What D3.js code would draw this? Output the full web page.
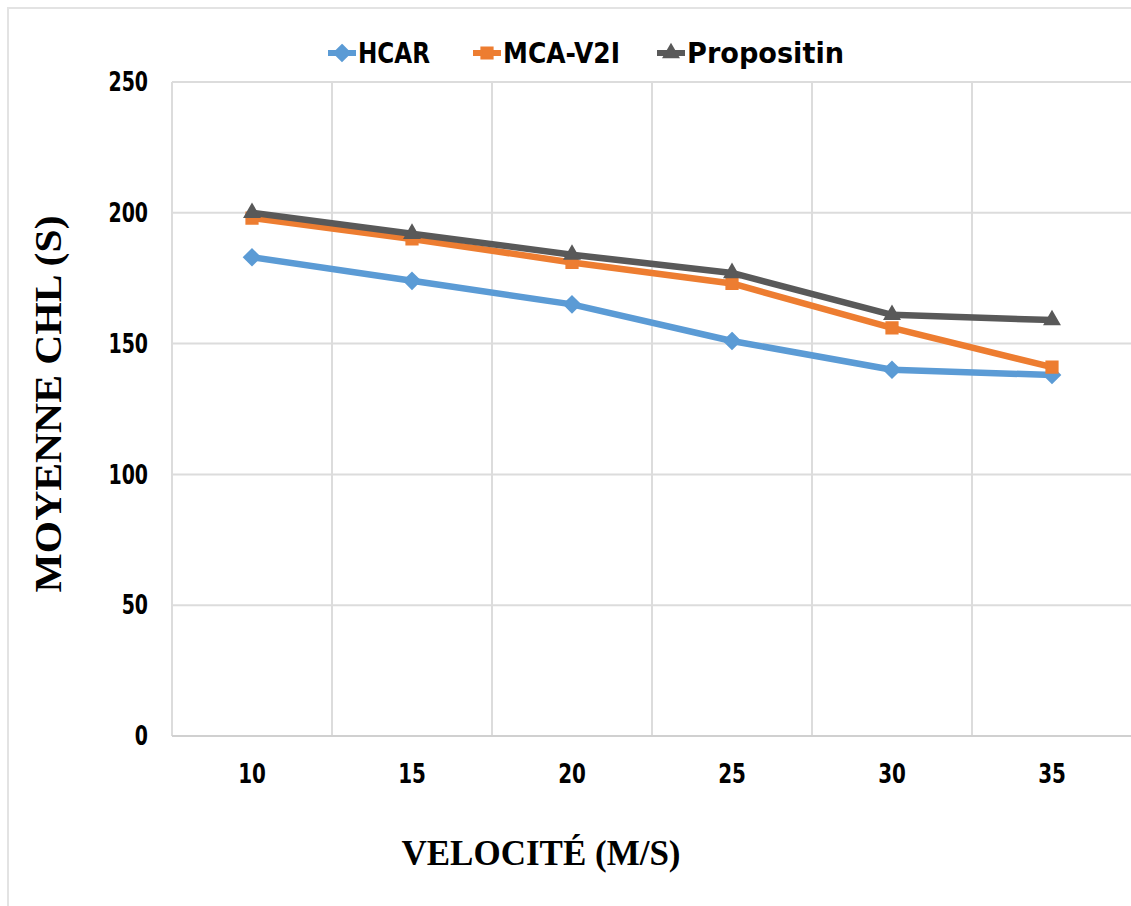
<!DOCTYPE html>
<html>
<head>
<meta charset="utf-8">
<script src="https://cdn.jsdelivr.net/npm/d3@7"></script>
<style>
  html, body { margin: 0; padding: 0; background: #fff; }
  svg { display: block; }
</style>
</head>
<body>
<svg id="chart" width="1131" height="906"></svg>
<script>
const categories = ["10", "15", "20", "25", "30", "35"];
const seriesNames = ["HCAR", "MCA-V2I", "Propositin"];
const hcar = [183, 174, 165, 151, 140, 138];
const mcaV2I = [198, 190, 181, 173, 156, 141];
const propositin = [200, 192, 184, 177, 161, 159];
const yTicks = [0, 50, 100, 150, 200, 250];
const xTitle = "VELOCITÉ (M/S)";
const yTitle = "MOYENNE CHL (S)";

(function () {
const series = [
  { name: seriesNames[0], values: hcar, color: "#5B9BD5", symbol: d3.symbolDiamond2, size: 160 },
  { name: seriesNames[1], values: mcaV2I, color: "#ED7D31", symbol: d3.symbolSquare2, size: 160 },
  { name: seriesNames[2], values: propositin, color: "#595959", symbol: d3.symbolTriangle2, size: 150 }
];

const svg = d3.select("#chart");
const sansFont = "'Liberation Sans Narrow', 'DejaVu Sans Condensed', 'Arial Narrow', sans-serif";
const serifFont = "'Liberation Serif', 'Times New Roman', serif";

function squeeze(sel, k) {
  sel.each(function () {
    const len = this.getComputedTextLength();
    d3.select(this).attr("textLength", len * k).attr("lengthAdjust", "spacingAndGlyphs");
  });
}

svg.append("rect").attr("x", 8).attr("y", 8).attr("width", 1140).attr("height", 920)
  .attr("fill", "none").attr("stroke", "#e3e3e3").attr("stroke-width", 2);

const pLeft = 172, pRight = 1132, pTop = 82, pBottom = 736;
const x = d3.scaleBand().domain(categories).range([pLeft, pRight]).paddingInner(0).paddingOuter(0);
const y = d3.scaleLinear().domain([0, 250]).range([pBottom, pTop]);

const grid = svg.append("g");
grid.selectAll("line.h").data(yTicks.filter(t => t > 0)).join("line")
  .attr("x1", pLeft).attr("x2", pRight)
  .attr("y1", d => y(d)).attr("y2", d => y(d))
  .attr("stroke", "#dcdcdc").attr("stroke-width", 2);
const bounds = categories.map(c => x(c)).concat([x(categories[categories.length - 1]) + x.bandwidth()]);
grid.selectAll("line.v").data(bounds).join("line")
  .attr("x1", d => d).attr("x2", d => d)
  .attr("y1", pTop).attr("y2", pBottom)
  .attr("stroke", "#dcdcdc").attr("stroke-width", 2);
svg.append("line").attr("x1", pLeft).attr("x2", pRight).attr("y1", pBottom).attr("y2", pBottom)
  .attr("stroke", "#d0d0d0").attr("stroke-width", 2);

const yAxis = d3.axisLeft(y).tickValues(yTicks).tickSize(0).tickPadding(24);
const gy = svg.append("g").attr("transform", `translate(${pLeft},0)`).call(yAxis);
gy.select(".domain").remove();
gy.selectAll("text").attr("font-family", sansFont).attr("font-weight", "bold")
  .attr("font-size", 27).attr("fill", "#000").call(squeeze, 0.78);

const xAxis = d3.axisBottom(x).tickSize(0).tickPadding(28);
const gx = svg.append("g").attr("transform", `translate(0,${pBottom})`).call(xAxis);
gx.select(".domain").remove();
gx.selectAll("text").attr("font-family", sansFont).attr("font-weight", "bold")
  .attr("font-size", 27).attr("fill", "#000").call(squeeze, 0.82);

const cx = (i) => x(categories[i]) + x.bandwidth() / 2;
const lineGen = d3.line().x((d, i) => cx(i)).y(d => y(d));
series.forEach(s => {
  const g = svg.append("g");
  g.append("path").attr("d", lineGen(s.values)).attr("fill", "none")
    .attr("stroke", s.color).attr("stroke-width", 6.5).attr("stroke-linejoin", "round");
  g.selectAll("path.m").data(s.values).join("path")
    .attr("transform", (d, i) => `translate(${cx(i)},${y(d)})`)
    .attr("d", d3.symbol().type(s.symbol).size(s.size)())
    .attr("fill", s.color).attr("stroke", s.color).attr("stroke-width", 2);
});

const legendX = [328, 473, 657];
const legendW = [72, 117, 157];
const legend = svg.append("g");
series.forEach((s, i) => {
  const g = legend.append("g").attr("transform", `translate(${legendX[i]},53)`);
  g.append("line").attr("x1", 0).attr("x2", 28).attr("y1", 0).attr("y2", 0)
    .attr("stroke", s.color).attr("stroke-width", 6);
  g.append("path").attr("transform", "translate(14,0)")
    .attr("d", d3.symbol().type(s.symbol).size(s.size)())
    .attr("fill", s.color).attr("stroke", s.color).attr("stroke-width", 2);
  g.append("text").attr("x", 30).attr("y", 0).attr("dy", "0.36em")
    .attr("font-family", sansFont).attr("font-weight", "bold").attr("font-size", 28)
    .attr("fill", "#000").attr("textLength", legendW[i]).attr("lengthAdjust", "spacingAndGlyphs")
    .text(s.name);
});

svg.append("text").attr("x", 541).attr("y", 865).attr("text-anchor", "middle")
  .attr("font-family", serifFont).attr("font-weight", "bold").attr("font-size", 35)
  .attr("fill", "#000").text(xTitle);
svg.append("text").attr("transform", "translate(61,404) rotate(-90)").attr("text-anchor", "middle")
  .attr("font-family", serifFont).attr("font-weight", "bold").attr("font-size", 37)
  .attr("fill", "#000").attr("textLength", 377).attr("lengthAdjust", "spacingAndGlyphs")
  .text(yTitle);
})();
</script>
</body>
</html>
